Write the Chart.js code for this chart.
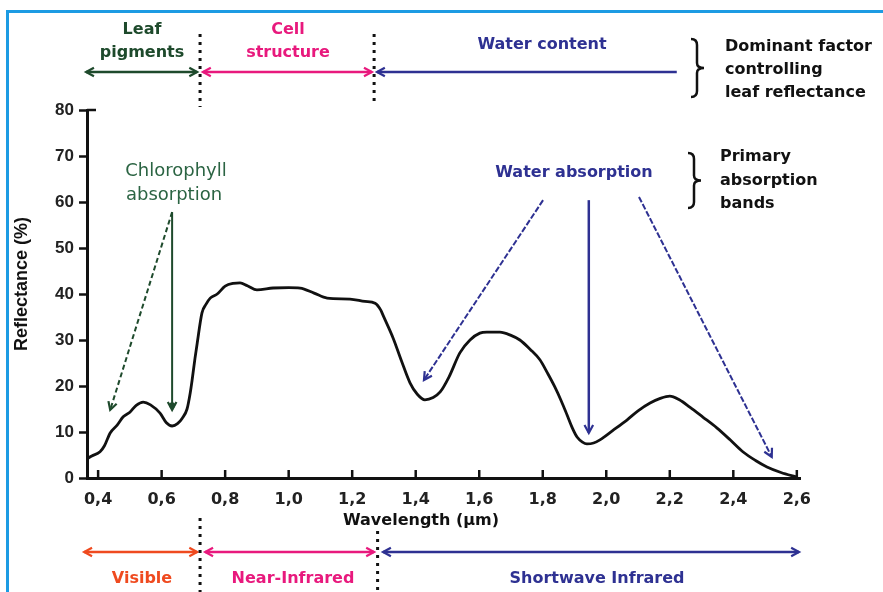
<!DOCTYPE html>
<html>
<head>
<meta charset="utf-8">
<script src="https://cdn.jsdelivr.net/npm/chart.js@4.4.1/dist/chart.umd.min.js"></script>
<style>
html,body{margin:0;padding:0;background:#fff;}
#wrap{width:883px;height:592px;position:relative;}
</style>
</head>
<body>
<div id="wrap"><canvas id="c" width="883" height="592"></canvas></div>
<script>
// ---- data ----
const wavelengths = [0.364,0.38,0.406,0.42,0.438,0.46,0.479,0.50,0.52,0.542,0.565,0.595,0.615,0.633,0.65,0.665,0.68,0.69,0.696,0.705,0.712,0.727,0.74,0.753,0.775,0.80,0.825,0.847,0.87,0.90,0.951,1.00,1.036,1.08,1.121,1.193,1.24,1.272,1.29,1.297,1.329,1.355,1.382,1.405,1.429,1.455,1.477,1.505,1.539,1.571,1.602,1.624,1.665,1.70,1.728,1.76,1.791,1.815,1.838,1.858,1.876,1.893,1.908,1.925,1.939,1.96,1.98,2.02,2.065,2.10,2.138,2.17,2.20,2.23,2.263,2.305,2.348,2.39,2.43,2.47,2.506,2.55,2.60];
const reflectance = [4.1,4.8,5.7,7.0,9.8,11.5,13.3,14.3,15.8,16.5,15.9,14.1,12.0,11.3,11.8,13.0,15.0,18.5,21.3,26.0,29.3,35.9,37.8,39.1,40.0,41.7,42.3,42.4,41.8,40.9,41.3,41.4,41.3,40.2,39.1,38.9,38.4,38.0,36.5,35.4,30.4,25.5,20.7,18.2,17.0,17.5,18.7,22.0,27.2,30.0,31.5,31.7,31.7,31.0,30.0,28.0,25.7,22.8,19.8,16.8,13.8,10.9,8.9,7.8,7.4,7.6,8.3,10.3,12.6,14.6,16.3,17.3,17.8,17.0,15.4,13.2,10.9,8.3,5.7,3.8,2.4,1.2,0.2];
const xTicks = [0.4,0.6,0.8,1.0,1.2,1.4,1.6,1.8,2.0,2.2,2.4,2.6];
const yTicks = [0,10,20,30,40,50,60,70,80];
const topBands = ["Leaf pigments","Cell structure","Water content"];
const bottomBands = ["Visible","Near-Infrared","Shortwave Infrared"];

const C_GREEN='#1e4a2c', C_GREEN2='#2b6443', C_PINK='#e8197d', C_BLUE='#2e3192', C_ORANGE='#ef4a1f', C_BLACK='#111';
const FONT='"DejaVu Sans", sans-serif';

function head(ctx,x1,y1,x2,y2,color,size){
  const a=Math.atan2(y2-y1,x2-x1); size=size||9;
  ctx.save();ctx.strokeStyle=color;ctx.lineWidth=2.2;ctx.setLineDash([]);
  ctx.beginPath();
  ctx.moveTo(x2-size*Math.cos(a-0.5),y2-size*Math.sin(a-0.5));
  ctx.lineTo(x2,y2);
  ctx.lineTo(x2-size*Math.cos(a+0.5),y2-size*Math.sin(a+0.5));
  ctx.stroke();ctx.restore();
}
function arrow(ctx,x1,y1,x2,y2,color,opt){
  opt=opt||{};
  ctx.save();ctx.strokeStyle=color;ctx.lineWidth=opt.w||2;
  ctx.setLineDash(opt.dash||[]);
  ctx.beginPath();ctx.moveTo(x1,y1);ctx.lineTo(x2,y2);ctx.stroke();ctx.restore();
  if(opt.end!==false) head(ctx,x1,y1,x2,y2,color);
  if(opt.start) head(ctx,x2,y2,x1,y1,color);
}
function dotted(ctx,x,y1,y2){
  ctx.save();ctx.strokeStyle=C_BLACK;ctx.lineWidth=3;ctx.setLineDash([3,5]);
  ctx.beginPath();ctx.moveTo(x,y1);ctx.lineTo(x,y2);ctx.stroke();ctx.restore();
}
function brace(ctx,x,y1,y2){
  const m=(y1+y2)/2;
  ctx.save();ctx.strokeStyle=C_BLACK;ctx.lineWidth=2.5;
  ctx.beginPath();
  ctx.moveTo(x-6,y1);ctx.quadraticCurveTo(x,y1,x,y1+6);
  ctx.lineTo(x,m-5);ctx.quadraticCurveTo(x,m,x+7,m);
  ctx.quadraticCurveTo(x,m,x,m+5);
  ctx.lineTo(x,y2-6);ctx.quadraticCurveTo(x,y2,x-6,y2);
  ctx.stroke();ctx.restore();
}
function text(ctx,s,x,y,color,font,align){
  ctx.save();ctx.fillStyle=color;ctx.font=font;ctx.textAlign=align||'center';ctx.textBaseline='middle';
  ctx.fillText(s,x,y);ctx.restore();
}

const annot = {
  id:'annot',
  beforeDraw(chart){
    const ctx=chart.ctx;
    ctx.save();ctx.fillStyle='#fff';ctx.fillRect(0,0,chart.width,chart.height);
    ctx.fillStyle='#1c9be3';ctx.fillRect(6,10,877,3);ctx.fillRect(6,10,3,582);ctx.restore();
  },
  afterDraw(chart){
    const ctx=chart.ctx, X=chart.scales.x, Y=chart.scales.y;
    const px=v=>X.getPixelForValue(v), py=v=>Y.getPixelForValue(v);
    const bottom=Y.getPixelForValue(0);
    // inward x ticks
    ctx.save();ctx.strokeStyle=C_BLACK;ctx.lineWidth=2.5;
    xTicks.forEach(v=>{ctx.beginPath();ctx.moveTo(px(v),bottom);ctx.lineTo(px(v),bottom-8);ctx.stroke();});
    ctx.beginPath();ctx.moveTo(X.left,py(80));ctx.lineTo(X.left+9,py(80));ctx.stroke();
    ctx.restore();
    // axis titles
    const BF='bold 16px '+FONT;
    text(ctx,'Wavelength (\u00b5m)',421,521,C_BLACK,BF);
    ctx.save();ctx.translate(22,284);ctx.rotate(-Math.PI/2);
    text(ctx,'Reflectance (%)',0,0,C_BLACK,'bold 18px "Liberation Sans", Arial, sans-serif');
    ctx.restore();

    // top bands
    const ty=72;
    arrow(ctx,px(0.362),ty,px(0.712),ty,C_GREEN,{start:true,w:2.5});
    arrow(ctx,px(0.730),ty,px(1.262),ty,C_PINK,{start:true,w:2.5});
    arrow(ctx,px(2.222),ty,px(1.278),ty,C_BLUE,{w:2.5});
    dotted(ctx,px(0.721),34,107);
    dotted(ctx,px(1.269),34,105);
    text(ctx,'Leaf',142,30,C_GREEN,BF);
    text(ctx,'pigments',142,53,C_GREEN,BF);
    text(ctx,'Cell',288,30,C_PINK,BF);
    text(ctx,'structure',288,53,C_PINK,BF);
    text(ctx,topBands[2],542,45,C_BLUE,BF);
    brace(ctx,697,39,97);
    text(ctx,'Dominant factor',725,47,C_BLACK,BF,'left');
    text(ctx,'controlling',725,70,C_BLACK,BF,'left');
    text(ctx,'leaf reflectance',725,93,C_BLACK,BF,'left');
    brace(ctx,694,153,208);
    text(ctx,'Primary',720,157,C_BLACK,BF,'left');
    text(ctx,'absorption',720,181,C_BLACK,BF,'left');
    text(ctx,'bands',720,204,C_BLACK,BF,'left');

    // chlorophyll
    text(ctx,'Chlorophyll',176,171,C_GREEN2,'18px '+FONT);
    text(ctx,'absorption',174,195,C_GREEN2,'18px '+FONT);
    arrow(ctx,px(0.633),py(57.8),px(0.438),py(14.8),C_GREEN,{dash:[5,3],w:2});
    arrow(ctx,px(0.633),py(57.8),px(0.633),py(14.8),C_GREEN,{w:2});
    ctx.save();ctx.fillStyle=C_GREEN;ctx.beginPath();ctx.arc(px(0.633),py(15.8),3,0,Math.PI*2);ctx.fill();ctx.restore();

    // water absorption
    text(ctx,'Water absorption',574,173,C_BLUE,BF);
    arrow(ctx,px(1.801),py(60.4),px(1.426),py(21.3),C_BLUE,{dash:[6,2],w:2});
    arrow(ctx,px(1.945),py(60.4),px(1.945),py(9.8),C_BLUE,{w:2.5});
    arrow(ctx,px(2.103),py(61.1),px(2.521),py(4.6),C_BLUE,{dash:[6,2],w:2});

    // bottom bands
    const by=552;
    arrow(ctx,px(0.356),by,px(0.712),by,C_ORANGE,{start:true,w:2.5});
    arrow(ctx,px(0.737),by,px(1.269),by,C_PINK,{start:true,w:2.5});
    arrow(ctx,px(1.297),by,px(2.607),by,C_BLUE,{start:true,w:2.5});
    dotted(ctx,px(0.721),518,592);
    dotted(ctx,px(1.28),531,592);
    text(ctx,bottomBands[0],142,579,C_ORANGE,BF);
    text(ctx,bottomBands[1],293,579,C_PINK,BF);
    text(ctx,bottomBands[2],597,579,C_BLUE,BF);
  }
};

new Chart(document.getElementById('c'),{
  type:'scatter',
  data:{datasets:[{
    data:wavelengths.map((w,i)=>({x:w,y:reflectance[i]})),
    showLine:true,borderColor:'#111',borderWidth:2.8,pointRadius:0,
    tension:0.3,cubicInterpolationMode:'monotone',fill:false
  }]},
  options:{
    responsive:false,animation:false,devicePixelRatio:1,
    layout:{padding:{left:0,top:110,right:83,bottom:0}},
    plugins:{legend:{display:false},tooltip:{enabled:false}},
    scales:{
      x:{type:'linear',min:0.365,max:2.61,
        afterBuildTicks:s=>{s.ticks=xTicks.map(v=>({value:v}));},
        afterFit:s=>{s.height=114;},
        grid:{display:false},
        border:{display:true,color:'#111',width:3},
        ticks:{padding:4,color:'#222',font:{family:'"DejaVu Sans"',weight:'bold',size:16},
          maxRotation:0,autoSkip:false,callback:v=>Number(v).toFixed(1).replace('.',',')}
      },
      y:{type:'linear',min:0,max:80,
        afterBuildTicks:s=>{s.ticks=yTicks.map(v=>({value:v}));},
        afterFit:s=>{s.width=87;},
        grid:{display:true,drawOnChartArea:false,drawTicks:true,tickLength:8,tickColor:'#111',tickWidth:2.5},
        border:{display:true,color:'#111',width:3},
        ticks:{padding:5,color:'#222',font:{family:'"Liberation Sans"',weight:'bold',size:17}}
      }
    }
  },
  plugins:[annot]
});
</script>
</body>
</html>
